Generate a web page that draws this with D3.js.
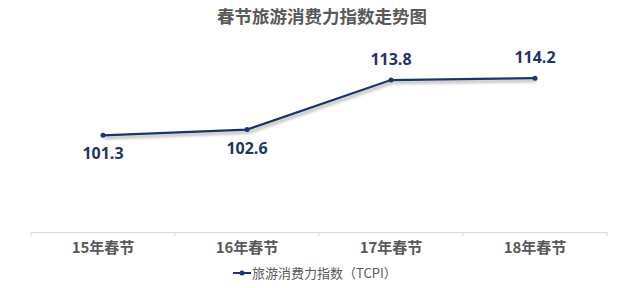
<!DOCTYPE html>
<html lang="zh-CN">
<head>
<meta charset="utf-8">
<script src="https://cdn.jsdelivr.net/npm/d3@7"></script>
<style>
  body { margin: 0; background: #fff; }
  svg { display: block; font-family: "Noto Sans CJK SC", "Open Sans", sans-serif; }
</style>
</head>
<body>
<svg id="chart"></svg>
<script>
// chart data
const title = "春节旅游消费力指数走势图";
const seriesName = "旅游消费力指数（TCPI）";
const categories = ["15年春节", "16年春节", "17年春节", "18年春节"];
const values = [101.3, 102.6, 113.8, 114.2];

const w = 637, h = 288;
const navy = "#1f3468";
const gray = "#595959";

let svg = d3.select("#chart").attr("width", w).attr("height", h);

// drop shadow for the line
let defs = svg.append("defs");
let f = defs.append("filter").attr("id", "shadow")
  .attr("x", "-10%").attr("y", "-50%").attr("width", "120%").attr("height", "200%");
f.append("feDropShadow").attr("dx", 1.5).attr("dy", 2.5).attr("stdDeviation", 1.5)
  .attr("flood-color", "#000").attr("flood-opacity", 0.35);

let xScale = d3.scaleBand().domain(categories).range([31, 607]);
let yScale = d3.scaleLinear().domain([79, 119]).range([234, 57]);
let cx = d => xScale(d) + xScale.bandwidth() / 2;

// title
svg.append("text")
  .attr("x", 322).attr("y", 23)
  .attr("text-anchor", "middle")
  .attr("font-size", 17.5).attr("font-weight", "bold")
  .attr("fill", gray)
  .text(title);

// x axis
let xAxis = d3.axisBottom(xScale).tickSize(0).tickPadding(10);
let gx = svg.append("g")
  .attr("transform", "translate(0," + 232 + ")")
  .call(xAxis);
gx.select(".domain").attr("stroke", "#d9d9d9").attr("stroke-width", 1);
gx.selectAll("text")
  .attr("font-size", 15).attr("font-weight", "bold")
  .attr("fill", gray)
  .attr("font-family", "\"Noto Sans CJK SC\", sans-serif");
// boundary ticks between categories
gx.selectAll(".sep")
  .data(d3.range(categories.length + 1))
  .enter()
  .append("line")
  .attr("class", "sep")
  .attr("x1", i => 31 + i * xScale.bandwidth())
  .attr("x2", i => 31 + i * xScale.bandwidth())
  .attr("y1", 0).attr("y2", 4)
  .attr("stroke", "#d9d9d9");

// line
let line = d3.line()
  .x((d, i) => cx(categories[i]))
  .y(d => yScale(d));

svg.append("path")
  .datum(values)
  .attr("d", line)
  .attr("fill", "none")
  .attr("stroke", navy)
  .attr("stroke-width", 2.25)
  .attr("filter", "url(#shadow)");

svg.selectAll(".dot")
  .data(values)
  .enter()
  .append("circle")
  .attr("class", "dot")
  .attr("cx", (d, i) => cx(categories[i]))
  .attr("cy", d => yScale(d))
  .attr("r", 2.5)
  .attr("fill", navy);

// data labels: below for the low points, above for the high ones
let mid = (d3.min(values) + d3.max(values)) / 2;
svg.selectAll(".lbl")
  .data(values)
  .enter()
  .append("text")
  .attr("class", "lbl")
  .attr("x", (d, i) => cx(categories[i]))
  .attr("y", d => yScale(d) + (d < mid ? 24 : -15))
  .attr("text-anchor", "middle")
  .attr("font-size", 16).attr("font-weight", "bold")
  .attr("font-family", "\"Open Sans\", sans-serif")
  .attr("fill", navy)
  .text(d => d.toFixed(1));

// legend
let lg = svg.append("g").attr("transform", "translate(233,273)");
lg.append("line").attr("x1", 0).attr("x2", 18).attr("y1", 0).attr("y2", 0)
  .attr("stroke", navy).attr("stroke-width", 2);
lg.append("circle").attr("cx", 9).attr("cy", 0).attr("r", 2.5).attr("fill", navy);
lg.append("text")
  .attr("x", 19).attr("y", 4.5)
  .attr("font-size", 13)
  .attr("fill", gray)
  .text(seriesName);
</script>
</body>
</html>
